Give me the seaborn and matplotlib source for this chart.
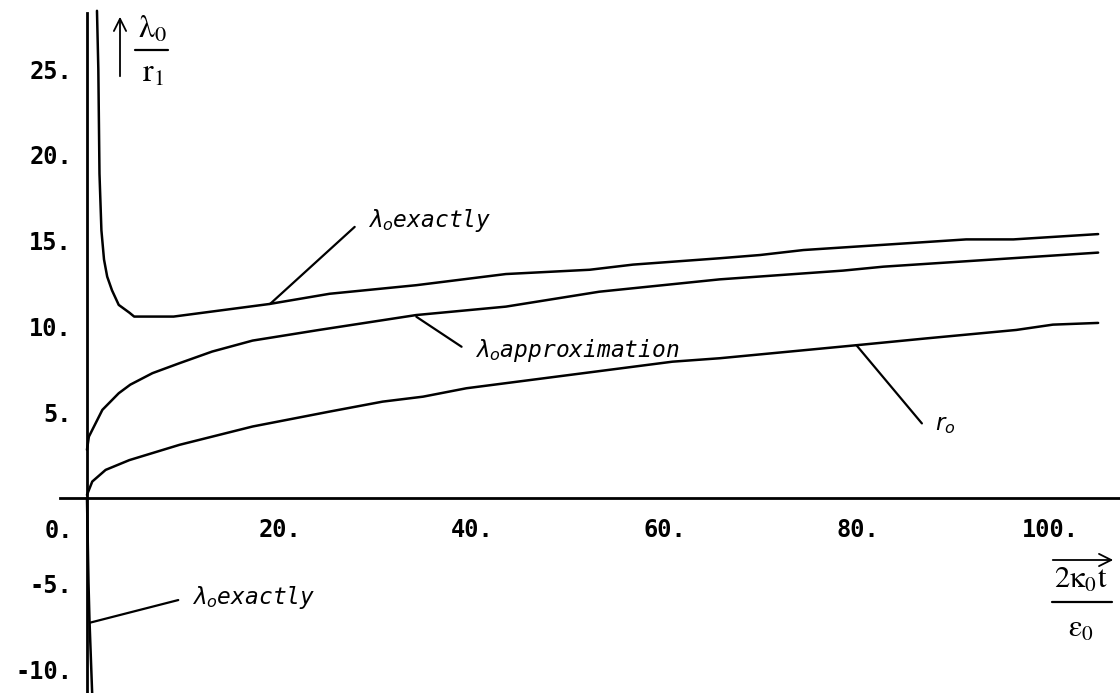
import numpy as np
import pandas as pd
import matplotlib
matplotlib.use("Agg")
import matplotlib.pyplot as plt
import seaborn as sns

# curves
exact_upper_x = [1.04, 1.18, 1.3, 1.5, 1.77, 2.1, 2.6, 3.3, 4.4, 4.9, 9.0, 18.9, 25.2,
                 34.2, 43.5, 52.2, 56.7, 65.7, 69.9, 74.4, 91.3, 96.2, 105.0]
exact_upper_y = [28.4, 25.0, 18.9, 15.6, 13.9, 12.9, 12.1, 11.25, 10.8, 10.57, 10.57, 11.3, 11.9,
                 12.4, 13.05, 13.3, 13.6, 13.97, 14.16, 14.45, 15.07, 15.07, 15.38]

exact_lower_x = [0.0, 0.16, 0.26, 0.54]
exact_lower_y = [0.0, -4.95, -7.1, -11.4]

approx_x = [0.0, 0.2, 1.6, 3.3, 4.5, 6.8, 9.6, 13.0, 17.2, 24.1, 34.2, 43.5, 53.2, 65.7, 78.5, 82.7, 105.0]
approx_y = [2.8, 3.57, 5.13, 6.1, 6.6, 7.27, 7.85, 8.53, 9.17, 9.79, 10.66, 11.15, 12.02, 12.74, 13.25, 13.48, 14.3]

r_x = [0.0, 0.55, 1.94, 4.4, 9.6, 17.2, 25.2, 30.7, 34.9, 39.4, 60.8, 65.7, 79.9, 87.2, 96.5, 100.3, 105.0]
r_y = [0.17, 0.95, 1.63, 2.2, 3.09, 4.16, 5.03, 5.61, 5.9, 6.39, 7.94, 8.14, 8.9, 9.3, 9.79, 10.1, 10.2]

x_ticks = [20, 40, 60, 80, 100]
x_tick_labels = ["20.", "40.", "60.", "80.", "100."]
y_ticks = [-10, -5, 5, 10, 15, 20, 25]
y_tick_labels = ["-10.", "-5.", "5.", "10.", "15.", "20.", "25."]

# curve labels: text, leader start, leader end, text position
labels = [
    (r"$\lambda_o$exactly", (19.0, 11.3), (27.8, 15.8), (29.2, 15.77)),
    (r"$\lambda_o$approximation", (34.2, 10.56), (38.9, 8.81), (40.3, 8.23)),
    (r"$r_o$", (79.9, 8.9), (86.7, 4.34), (88.1, 3.95)),
    (r"$\lambda_o$exactly", (0.31, -7.28), (9.48, -5.96), (10.87, -6.19)),
]

frames = []
for name, xs, ys in [("exact_upper", exact_upper_x, exact_upper_y),
                     ("exact_lower", exact_lower_x, exact_lower_y),
                     ("approx", approx_x, approx_y),
                     ("r", r_x, r_y)]:
    frames.append(pd.DataFrame({"x": xs, "y": ys, "curve": name}))
df = pd.concat(frames, ignore_index=True)

sns.set_style("white")

W, H = 1120, 693
fig = plt.figure(figsize=(W / 100, H / 100), dpi=100)
ax = fig.add_axes([0, 0, 1, 1])

sns.lineplot(data=df, x="x", y="y", units="curve", estimator=None, sort=False,
             color="black", lw=1.8, ax=ax, legend=False)

ax.set_xlim(-9.03, 107.27)
ax.set_ylim(-11.38, 29.03)
ax.set_xlabel("")
ax.set_ylabel("")

for side in ["top", "right"]:
    ax.spines[side].set_visible(False)
for side in ["left", "bottom"]:
    ax.spines[side].set_position(("data", 0))
    ax.spines[side].set_linewidth(2.0)
    ax.spines[side].set_color("black")
ax.spines["bottom"].set_bounds(-2.8, 107.27)
ax.spines["left"].set_bounds(-11.38, 28.3)

tick_font = dict(fontfamily="DejaVu Sans Mono", fontweight="bold", fontsize=17, color="black")
ax.set_xticks(x_ticks)
ax.set_xticklabels(x_tick_labels, **tick_font)
ax.set_yticks(y_ticks)
ax.set_yticklabels(y_tick_labels, **tick_font)
ax.tick_params(axis="both", direction="inout", length=11.5, width=1.7, color="black",
               labelcolor="black")
ax.tick_params(axis="x", pad=9)
ax.tick_params(axis="y", pad=5)
ax.annotate("0.", xy=(0, 0), xytext=(-20.5, -15.5), textcoords="offset points",
            ha="center", va="top", **tick_font)

for text, p0, p1, tp in labels:
    ax.plot([p0[0], p1[0]], [p0[1], p1[1]], color="black", lw=1.6)
    ax.text(tp[0], tp[1], text, fontfamily="DejaVu Sans Mono", style="oblique",
            fontsize=16.5, ha="left", va="baseline", color="black")

# y axis label: up arrow and fraction
ax.annotate("", xy=(120, H - 14), xytext=(120, H - 79), xycoords="figure pixels",
            textcoords="figure pixels",
            arrowprops=dict(arrowstyle="->", lw=1.3, color="black", mutation_scale=22))
fig.text(153 / W, 1 - 37 / H, r"$\mathrm{\lambda_0}$", math_fontfamily="stix",
         fontsize=23, ha="center", va="baseline", color="black")
fig.add_artist(plt.Line2D([135 / W, 168 / W], [1 - 50 / H, 1 - 50 / H], color="black", lw=1.6))
fig.text(153 / W, 1 - 82 / H, r"$\mathrm{r_1}$", math_fontfamily="stix",
         fontsize=23, ha="center", va="baseline", color="black")

# x axis label: over-arrow and fraction
ax.annotate("", xy=(1116, H - 560), xytext=(1050, H - 560), xycoords="figure pixels",
            textcoords="figure pixels",
            arrowprops=dict(arrowstyle="->", lw=1.3, color="black", mutation_scale=22))
fig.text(1081 / W, 1 - 588 / H, r"$\mathrm{2\kappa_0 t}$", math_fontfamily="stix",
         fontsize=22, ha="center", va="baseline", color="black")
fig.add_artist(plt.Line2D([1052 / W, 1112 / W], [1 - 602 / H, 1 - 602 / H], color="black", lw=1.6))
fig.text(1081 / W, 1 - 637 / H, r"$\mathrm{\varepsilon_0}$", math_fontfamily="stix",
         fontsize=22, ha="center", va="baseline", color="black")

fig.savefig("out.png", dpi=100)
